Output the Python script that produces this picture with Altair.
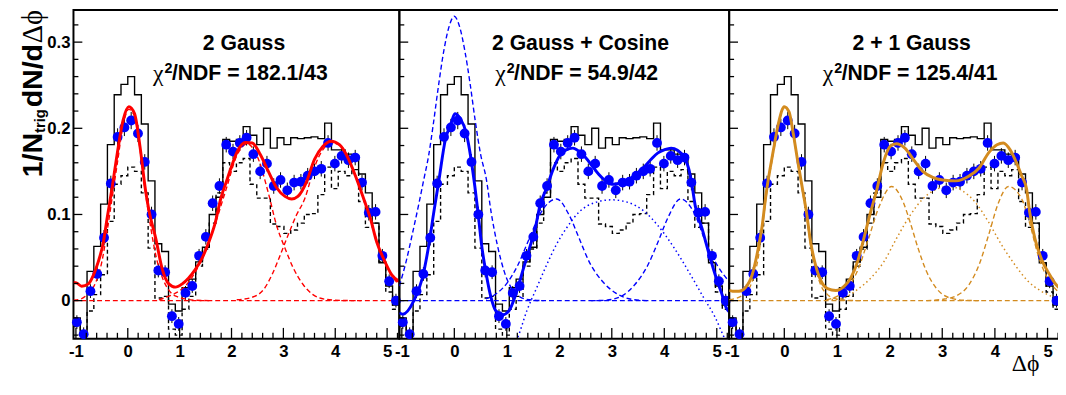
import altair as alt
import pandas as pd

SANS = "Liberation Sans"
SERIF = "Liberation Serif"
RED = "#ff0000"
BLUE = "#0000ff"
ORANGE = "#d38b1f"

XMIN = -1.0472
XMAX = 5.2360
YMIN = -0.0442
YMAX = 0.3374
BIN_HALF = 0.06545

# ---- measured data (same in all three panels) ----
bin_centers = [-0.9817, -0.8508, -0.7199, -0.5890, -0.4581, -0.3272, -0.1963, -0.0654,
               0.0654, 0.1963, 0.3272, 0.4581, 0.5890, 0.7199, 0.8508, 0.9817,
               1.1126, 1.2435, 1.3744, 1.5053, 1.6362, 1.7671, 1.8980, 2.0289,
               2.1598, 2.2907, 2.4216, 2.5525, 2.6834, 2.8143, 2.9452, 3.0761,
               3.2070, 3.3379, 3.4688, 3.5997, 3.7306, 3.8615, 3.9924, 4.1233,
               4.2542, 4.3851, 4.5160, 4.6469, 4.7778, 4.9087, 5.0396, 5.1705]
points_y = [-0.025, -0.039, 0.011, 0.031, 0.073, 0.136, 0.190, 0.201,
            0.209, 0.194, 0.161, 0.100, 0.035, 0.033, -0.018, -0.027,
            0.009, 0.017, 0.052, 0.074, 0.113, 0.133, 0.181, 0.173,
            0.183, 0.189, 0.170, 0.150, 0.159, 0.133, 0.140, 0.128,
            0.137, 0.138, 0.145, 0.150, 0.153, 0.183, 0.159, 0.168,
            0.163, 0.166, 0.137, 0.102, 0.103, 0.052, 0.0225, 0.000]
points_err = [0.008, 0.008, 0.008, 0.008, 0.009, 0.009, 0.010, 0.010,
              0.010, 0.010, 0.009, 0.009, 0.008, 0.008, 0.008, 0.008,
              0.008, 0.008, 0.008, 0.009, 0.009, 0.009, 0.009, 0.009,
              0.009, 0.009, 0.009, 0.009, 0.009, 0.009, 0.009, 0.009,
              0.009, 0.009, 0.009, 0.009, 0.009, 0.009, 0.009, 0.009,
              0.009, 0.009, 0.009, 0.009, 0.009, 0.008, 0.008, 0.008]
hist_upper = [-0.020, -0.040, 0.034, 0.063, 0.112, 0.181, 0.239, 0.251, 0.260, 0.239, 0.205, 0.139,
              0.066, 0.057, -0.004, -0.012, 0.015, 0.025, 0.045, 0.062, 0.100, 0.120, 0.187, 0.185,
              0.187, 0.202, 0.192, 0.181, 0.200, 0.177, 0.189, 0.181, 0.189, 0.188, 0.189, 0.190,
              0.188, 0.206, 0.175, 0.175, 0.170, 0.168, 0.147, 0.125, 0.090, 0.044, 0.017, -0.005]
hist_lower = [-0.030, -0.040, -0.012, 0.007, 0.030, 0.092, 0.135, 0.145, 0.155, 0.150, 0.125, 0.061,
              0.003, 0.005, -0.033, -0.040, -0.010, 0.005, 0.040, 0.060, 0.090, 0.125, 0.160, 0.150,
              0.160, 0.165, 0.135, 0.119, 0.119, 0.089, 0.086, 0.078, 0.082, 0.090, 0.100, 0.101,
              0.123, 0.155, 0.130, 0.150, 0.145, 0.152, 0.115, 0.085, 0.090, 0.045, 0.010, -0.010]

pedestal_x = [-1.0472, 5.2360]
pedestal_y = [0.0, 0.0]

# ---- panel 1: 2 Gauss (red) ----
p1_total_x = [-1.0472, -0.99, -0.89, -0.76, -0.66, -0.57, -0.47, -0.40, -0.30, -0.22, -0.09, 0.02, 0.13,
              0.235, 0.34, 0.41, 0.54, 0.667, 0.79, 0.92, 1.05, 1.17, 1.30, 1.43, 1.55, 1.68, 1.80,
              1.90, 1.985, 2.11, 2.27, 2.40, 2.555, 2.71, 2.87, 3.03, 3.16, 3.28, 3.44, 3.60, 3.76,
              3.92, 4.08, 4.23, 4.39, 4.55, 4.68, 4.80, 4.93, 5.09, 5.236]
p1_total_y = [0.021, 0.0206, 0.0168, 0.0195, 0.030, 0.045, 0.068, 0.095, 0.132, 0.164, 0.2096, 0.225, 0.217,
              0.179, 0.129, 0.104, 0.072, 0.036, 0.0195, 0.0157, 0.0195, 0.026, 0.036, 0.049, 0.066, 0.089, 0.120,
              0.138, 0.153, 0.173, 0.1836, 0.183, 0.1695, 0.150, 0.131, 0.121, 0.118, 0.121, 0.137, 0.164, 0.179,
              0.185, 0.181, 0.1676, 0.1447, 0.118, 0.095, 0.068, 0.049, 0.030, 0.022]
p1_near_x = [-1.0472, -0.9, -0.8, -0.7, -0.6, -0.5, -0.4, -0.3, -0.2, -0.1, 0.02, 0.13, 0.235, 0.34,
             0.45, 0.55, 0.635, 0.75, 0.85, 0.98, 1.1, 1.3, 1.6]
p1_near_y = [0.0005, 0.002, 0.006, 0.012, 0.024, 0.045, 0.080, 0.120, 0.160, 0.200, 0.222, 0.214, 0.176, 0.126,
             0.082, 0.050, 0.032, 0.016, 0.008, 0.004, 0.002, 0.0005, 0.0]
p1_away1_x = [0.6, 0.7, 0.9, 1.11, 1.3, 1.5, 1.7, 1.9, 2.1, 2.3, 2.5, 2.71, 2.87, 3.03, 3.19, 3.38, 3.57,
              3.82, 4.1, 4.5]
p1_away1_y = [0.001, 0.003, 0.008, 0.017, 0.033, 0.058, 0.092, 0.130, 0.168, 0.182, 0.167, 0.125, 0.087, 0.061,
              0.038, 0.0187, 0.007, 0.0015, 0.0003, 0.0]
p1_away2_x = [2.1, 2.37, 2.62, 2.78, 2.94, 3.09, 3.25, 3.41, 3.6, 3.76, 3.95, 4.1, 4.25, 4.4, 4.55, 4.7,
              4.85, 5.0, 5.1, 5.236]
p1_away2_y = [0.001, 0.0034, 0.013, 0.030, 0.053, 0.076, 0.099, 0.118, 0.155, 0.175, 0.183, 0.180, 0.166, 0.144,
              0.117, 0.090, 0.060, 0.038, 0.028, 0.018]

# ---- panel 2: 2 Gauss + Cosine (blue) ----
p2_total_x = [-1.0472, -0.98, -0.77, -0.61, -0.486, -0.39, -0.30, -0.17, -0.06, 0.01, 0.11, 0.23, 0.31,
              0.39, 0.45, 0.52, 0.61, 0.70, 0.79, 0.92, 1.04, 1.17, 1.32, 1.45, 1.54, 1.63, 1.76, 1.88,
              2.0, 2.13, 2.26, 2.38, 2.50, 2.63, 2.75, 2.88, 3.0, 3.13, 3.25, 3.38, 3.50, 3.63, 3.75,
              3.88, 4.0, 4.13, 4.25, 4.38, 4.47, 4.53, 4.59, 4.72, 4.84, 4.97, 5.09, 5.18, 5.236]
p2_total_y = [-0.014, -0.0157, 0.0, 0.026, 0.0645, 0.103, 0.137, 0.187, 0.206, 0.217, 0.2115, 0.194, 0.1676,
              0.133, 0.103, 0.0645, 0.030, 0.0034, -0.0118, -0.0164, -0.0118, 0.0072, 0.038, 0.0645, 0.0836,
              0.110, 0.131, 0.152, 0.1676, 0.175, 0.177, 0.173, 0.166, 0.156, 0.1466, 0.139, 0.135, 0.136,
              0.139, 0.143, 0.1486, 0.156, 0.164, 0.1715, 0.175, 0.177, 0.1745, 0.166, 0.152, 0.133, 0.110,
              0.0836, 0.057, 0.030, 0.009, -0.008, -0.013]
p2_near_x = [-1.0472, -0.92, -0.79, -0.67, -0.58, -0.49, -0.40, -0.30, -0.20, -0.10, 0.0, 0.10, 0.20,
             0.30, 0.40, 0.50, 0.61, 0.70, 0.82, 0.95, 1.13, 1.38, 1.7]
p2_near_y = [0.017, 0.045, 0.080, 0.114, 0.141, 0.168, 0.205, 0.250, 0.290, 0.318, 0.330, 0.318, 0.290,
             0.252, 0.208, 0.170, 0.141, 0.103, 0.0645, 0.034, 0.011, 0.0015, 0.0]
p2_cos_x = [1.1, 1.2, 1.38, 1.57, 1.76, 1.94, 2.13, 2.38, 2.69, 3.0, 3.31, 3.63, 3.88, 4.19, 4.50, 4.75,
            4.97, 5.12, 5.236]
p2_cos_y = [-0.056, -0.044, -0.012, 0.015, 0.0416, 0.0645, 0.0836, 0.103, 0.114, 0.117, 0.114, 0.103, 0.087,
            0.061, 0.030, 0.0034, -0.0195, -0.040, -0.055]
p2_away1_x = [0.6, 0.82, 1.0, 1.2, 1.4, 1.63, 1.8, 1.95, 2.19, 2.38, 2.57, 2.82, 3.07, 3.38, 3.7]
p2_away1_y = [0.002, 0.009, 0.020, 0.040, 0.068, 0.100, 0.114, 0.118, 0.099, 0.072, 0.045, 0.0225, 0.009,
              0.0015, 0.0]
p2_away2_x = [2.6, 2.88, 3.19, 3.44, 3.69, 3.88, 4.06, 4.31, 4.56, 4.81, 5.0, 5.236]
p2_away2_y = [0.0, 0.0005, 0.0054, 0.0187, 0.0416, 0.068, 0.095, 0.118, 0.103, 0.0645, 0.042, 0.022]

# ---- panel 3: 2 + 1 Gauss (orange) ----
p3_total_x = [-1.0472, -0.985, -0.86, -0.74, -0.61, -0.52, -0.42, -0.35, -0.206, -0.11, 0.0, 0.09, 0.17,
              0.26, 0.35, 0.42, 0.50, 0.59, 0.70, 0.82, 0.98, 1.14, 1.26, 1.39, 1.51, 1.64, 1.75, 1.88,
              2.01, 2.13, 2.29, 2.45, 2.63, 2.82, 3.01, 3.26, 3.51, 3.70, 3.88, 4.04, 4.16, 4.29, 4.41,
              4.51, 4.60, 4.66, 4.76, 4.88, 5.04, 5.16, 5.236]
p3_total_y = [0.012, 0.011, 0.011, 0.015, 0.030, 0.053, 0.087, 0.122, 0.175, 0.206, 0.225, 0.219, 0.194,
              0.160, 0.128, 0.103, 0.068, 0.042, 0.0225, 0.014, 0.0118, 0.0168, 0.026, 0.045, 0.072, 0.103,
              0.127, 0.160, 0.179, 0.182, 0.177, 0.164, 0.150, 0.143, 0.140, 0.139, 0.1447, 0.154, 0.1715,
              0.181, 0.183, 0.175, 0.160, 0.1447, 0.130, 0.103, 0.072, 0.049, 0.030, 0.0187, 0.014]
p3_near_x = [-1.0472, -0.9, -0.8, -0.7, -0.6, -0.5, -0.42, -0.35, -0.206, -0.11, 0.0, 0.09, 0.17, 0.26,
             0.35, 0.42, 0.5, 0.6, 0.7, 0.82, 0.98, 1.2, 1.5]
p3_near_y = [0.001, 0.003, 0.006, 0.011, 0.024, 0.048, 0.083, 0.118, 0.172, 0.204, 0.224, 0.218, 0.193,
             0.158, 0.125, 0.100, 0.064, 0.036, 0.017, 0.007, 0.002, 0.0003, 0.0]
p3_away1_x = [0.8, 1.0, 1.2, 1.4, 1.6, 1.8, 2.04, 2.26, 2.39, 2.54, 2.70, 2.88, 3.13, 3.4, 3.7]
p3_away1_y = [0.001, 0.005, 0.015, 0.036, 0.072, 0.109, 0.1325, 0.114, 0.091, 0.061, 0.034, 0.015, 0.0034,
              0.0005, 0.0]
p3_away2_x = [2.7, 3.0, 3.26, 3.51, 3.70, 3.88, 4.07, 4.26, 4.51, 4.66, 4.82, 5.0, 5.16, 5.236]
p3_away2_y = [0.0, 0.0015, 0.0054, 0.0187, 0.0416, 0.076, 0.114, 0.1325, 0.118, 0.090, 0.053, 0.026, 0.013,
              0.009]
p3_wide_x = [0.9, 1.14, 1.39, 1.64, 1.89, 2.13, 2.39, 2.63, 2.88, 3.13, 3.38, 3.63, 3.88, 4.13, 4.38, 4.63,
             4.88, 5.13, 5.236]
p3_wide_y = [0.001, 0.0034, 0.013, 0.026, 0.045, 0.072, 0.099, 0.118, 0.129, 0.1325, 0.1275, 0.114, 0.091,
             0.0645, 0.0416, 0.0225, 0.011, 0.004, 0.003]

# axis tick positions
x_major = [-1, 0, 1, 2, 3, 4, 5]
x_minor = [-0.8, -0.6, -0.4, -0.2, 0.2, 0.4, 0.6, 0.8, 1.2, 1.4, 1.6, 1.8, 2.2, 2.4, 2.6, 2.8,
           3.2, 3.4, 3.6, 3.8, 4.2, 4.4, 4.6, 4.8, 5.2]
y_major = [0.0, 0.1, 0.2, 0.3]
y_minor = [-0.04, -0.02, 0.02, 0.04, 0.06, 0.08, 0.12, 0.14, 0.16, 0.18, 0.22, 0.24, 0.26, 0.28, 0.32]

HEIGHT = 334


def curves_df(spec):
    rows = []
    for name, xs, ys in spec:
        for a, b in zip(xs, ys):
            rows.append({"x": a, "y": b, "c": name})
    return pd.DataFrame(rows)


def hist_df(values):
    xs = [c - BIN_HALF for c in bin_centers] + [bin_centers[-1] + BIN_HALF]
    ys = list(values) + [values[-1]]
    return pd.DataFrame({"x": xs, "y": ys})


points_df = pd.DataFrame({
    "x": bin_centers,
    "y": points_y,
    "lo": [v - e for v, e in zip(points_y, points_err)],
    "hi": [v + e for v, e in zip(points_y, points_err)],
})


def txt(text, x, y, size, font=SANS, weight="bold", align="left", angle=0):
    return alt.Chart(alt.Data(values=[{}])).mark_text(
        text=text, fontSize=size, font=font, fontWeight=weight, align=align,
        baseline="alphabetic", angle=angle, color="black"
    ).encode(x=alt.value(x), y=alt.value(y))


def make_panel(width, color, dashed, dotted, total, title, title_cx, chi_rest, slash_x, first, extra):
    xsc = alt.Scale(domain=[XMIN, XMAX], nice=False, zero=False)
    ysc = alt.Scale(domain=[YMIN, YMAX], nice=False, zero=False)
    xaxis = alt.Axis(values=x_major, labelExpr="'' + datum.value", ticks=False, tickSize=0,
                     domain=False, grid=False, labelFont=SANS, labelFontSize=17,
                     labelFontWeight="bold", labelColor="black", labelPadding=4.6,
                     title=None, labelFlush=False, labelOverlap=False, labelBound=False)
    if first:
        yaxis = alt.Axis(values=y_major,
                         labelExpr="datum.value == 0 ? '0' : format(datum.value, '.1f')",
                         ticks=False, tickSize=0, domain=False, grid=False, labelFont=SANS,
                         labelFontSize=17, labelFontWeight="bold", labelColor="black",
                         labelPadding=3.5, title=None, labelOverlap=False)
    else:
        yaxis = None
    X = alt.X("x:Q", scale=xsc, axis=xaxis)
    Y = alt.Y("y:Q", scale=ysc, axis=yaxis)

    layers = []
    layers.append(alt.Chart(hist_df(hist_upper)).mark_line(
        interpolate="step-after", color="black", strokeWidth=1.4, clip=True).encode(X, Y))
    layers.append(alt.Chart(hist_df(hist_lower)).mark_line(
        interpolate="step-after", color="black", strokeWidth=1.4, strokeDash=[4, 3], clip=True).encode(X, Y))
    layers.append(alt.Chart(points_df).mark_rule(color="black", strokeWidth=1, clip=True).encode(
        X, alt.Y("lo:Q", scale=ysc, axis=yaxis), y2="hi:Q"))
    layers.append(alt.Chart(curves_df(dashed)).mark_line(
        color=color, strokeWidth=1.4, strokeDash=[5, 3], clip=True, interpolate="monotone").encode(
        X, Y, detail="c:N"))
    if dotted:
        layers.append(alt.Chart(curves_df(dotted)).mark_line(
            color=color, strokeWidth=1.5, strokeDash=[1.5, 3], clip=True, interpolate="monotone").encode(
            X, Y, detail="c:N"))
    layers.append(alt.Chart(points_df).mark_circle(color=BLUE, size=100, opacity=1, clip=False).encode(X, Y))
    layers.append(alt.Chart(curves_df(total)).mark_line(
        color=color, strokeWidth=3, clip=True, interpolate="monotone").encode(X, Y))
    # inward ticks
    layers.append(alt.Chart(pd.DataFrame({"x": x_major})).mark_rule(color="black", strokeWidth=1.3).encode(
        X, y=alt.value(HEIGHT), y2=alt.value(HEIGHT - 11)))
    layers.append(alt.Chart(pd.DataFrame({"x": x_minor})).mark_rule(color="black", strokeWidth=1.3).encode(
        X, y=alt.value(HEIGHT), y2=alt.value(HEIGHT - 6)))
    layers.append(alt.Chart(pd.DataFrame({"y": y_major})).mark_rule(color="black", strokeWidth=1.3).encode(
        Y, x=alt.value(0), x2=alt.value(9)))
    layers.append(alt.Chart(pd.DataFrame({"y": y_minor})).mark_rule(color="black", strokeWidth=1.3).encode(
        Y, x=alt.value(0), x2=alt.value(5)))
    # titles
    layers.append(txt(title, title_cx, 40.3, 21.5, align="center"))
    layers.append(txt("\u03c7", slash_x - 8.5, 72, 24, font=SERIF, weight="normal", align="right"))
    layers.append(txt("2", slash_x - 7.5, 63.7, 14.5))
    layers.append(txt(chi_rest, slash_x, 71.3, 21.5))
    layers.extend(extra)
    return alt.layer(*layers).properties(width=width, height=HEIGHT)


ytitle = [
    txt("1/N", -32, 170, 29, angle=270),
    txt("trig", -29, 125, 15, angle=270),
    txt("dN/d", -32, 99, 29, angle=270),
    txt("\u0394\u03d5", -32, 34, 29, font=SERIF, weight="normal", angle=270),
]
xtitle = [txt("\u0394\u03d5", 287, 367, 24, font=SERIF, weight="normal")]

p1 = make_panel(
    331, RED,
    [("ped", pedestal_x, pedestal_y), ("near", p1_near_x, p1_near_y),
     ("a1", p1_away1_x, p1_away1_y), ("a2", p1_away2_x, p1_away2_y)],
    None, [("tot", p1_total_x, p1_total_y)],
    "2 Gauss", 173.2, "/NDF = 182.1/43", 100, True, ytitle)
p2 = make_panel(
    335, BLUE,
    [("ped", pedestal_x, pedestal_y), ("near", p2_near_x, p2_near_y),
     ("a1", p2_away1_x, p2_away1_y), ("a2", p2_away2_x, p2_away2_y)],
    [("cos", p2_cos_x, p2_cos_y)], [("tot", p2_total_x, p2_total_y)],
    "2 Gauss + Cosine", 184, "/NDF = 54.9/42", 116.5, False, [])
p3 = make_panel(
    336, ORANGE,
    [("ped", pedestal_x, pedestal_y), ("near", p3_near_x, p3_near_y),
     ("a1", p3_away1_x, p3_away1_y), ("a2", p3_away2_x, p3_away2_y)],
    [("wide", p3_wide_x, p3_wide_y)], [("tot", p3_total_x, p3_total_y)],
    "2 + 1 Gauss", 185.3, "/NDF = 125.4/41", 114.3, False, xtitle)

# negative right padding crops the last panel at the window edge, as in the original
chart = alt.hconcat(p1, p2, p3, spacing=0, bounds="flush").properties(
    padding={"left": 10.5, "top": -2, "right": -5, "bottom": 1}
).configure_view(stroke="black", strokeWidth=2)

chart.save("out.html", embed_options={"renderer": "svg", "actions": False})
